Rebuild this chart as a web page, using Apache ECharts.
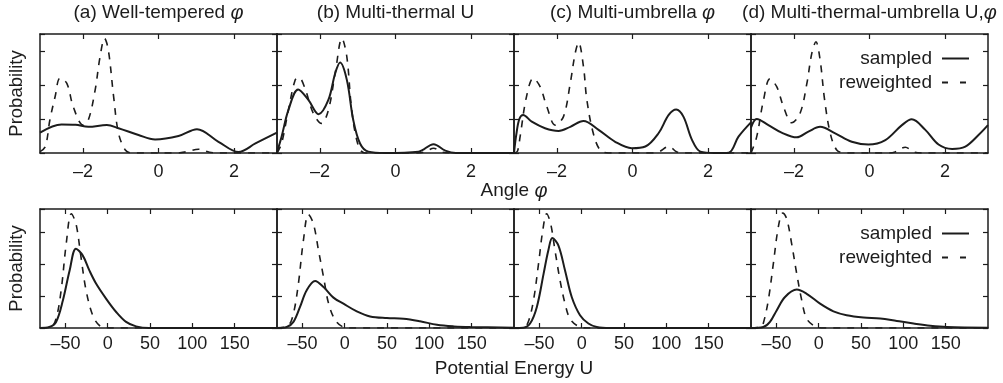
<!DOCTYPE html>
<html>
<head>
<meta charset="utf-8">
<script src="https://cdn.jsdelivr.net/npm/echarts@6/dist/echarts.min.js"></script>
<style>
  html, body { margin: 0; padding: 0; background: #fff; }
  #chart { width: 1003px; height: 383px; }
</style>
</head>
<body>
<div id="chart"></div>
<script>
// panel titles and axis ticks
const panelTitles = [
  "(a) Well-tempered φ",
  "(b) Multi-thermal U",
  "(c) Multi-umbrella φ",
  "(d) Multi-thermal-umbrella U,φ"
];
const phiTicks = [-2, 0, 2];
const energyTicks = [-50, 0, 50, 100, 150];

// top row: distribution of angle phi  [phi, probability]
const phiSampledA = [[-3.14,0.60],[-2.57,0.84],[-2.2,0.83],[-1.86,0.77],[-1.37,0.82],[-1.06,0.73],[-0.53,0.53],[-0.09,0.40],[0.53,0.50],[1.02,0.70],[1.59,0.33],[2.12,0.03],[2.57,0.28],[3.14,0.60]];
const phiReweightedA = [[-3.14,0.04],[-3.0,0.19],[-2.88,0.97],[-2.74,1.66],[-2.61,2.2],[-2.43,2.05],[-2.26,1.36],[-2.0,0.82],[-1.86,0.97],[-1.68,1.85],[-1.55,2.83],[-1.43,3.37],[-1.33,3.03],[-1.19,1.66],[-1.06,0.58],[-0.88,0.09],[-0.71,0],[0.5,0],[0.75,0.04],[1.06,0.11],[1.35,0.02],[1.6,0],[3.14,0]];

const phiSampledB = [[-3.14,0.03],[-3.02,0.48],[-2.84,1.26],[-2.58,1.87],[-2.31,1.56],[-2.04,1.14],[-1.78,1.56],[-1.60,2.34],[-1.47,2.66],[-1.29,2.15],[-1.12,0.97],[-0.94,0.28],[-0.72,0.04],[-0.27,0],[0.61,0.04],[1.01,0.26],[1.32,0.07],[1.6,0],[3.14,0]];
const phiReweightedB = [[-3.14,0],[-3.02,0.28],[-2.84,1.26],[-2.66,2.15],[-2.56,2.22],[-2.40,1.9],[-2.18,1.17],[-1.96,0.87],[-1.78,1.26],[-1.60,2.34],[-1.42,3.37],[-1.29,2.83],[-1.16,1.26],[-0.98,0.19],[-0.81,0],[0.6,0],[0.79,0.04],[1.01,0.14],[1.23,0.03],[1.5,0],[3.14,0]];

const phiSampledC = [[-3.14,0.02],[-3.08,0.55],[-3.0,1.0],[-2.9,1.12],[-2.67,0.92],[-2.32,0.73],[-1.96,0.65],[-1.65,0.77],[-1.30,0.94],[-0.90,0.68],[-0.46,0.33],[-0.02,0.14],[0.34,0.19],[0.69,0.58],[0.96,1.12],[1.16,1.28],[1.35,1.07],[1.58,0.38],[1.80,0.04],[2.19,0],[2.55,0.01],[2.81,0.48],[3.14,0.9]];
const phiReweightedC = [[-3.14,0],[-3.05,0.05],[-2.98,0.48],[-2.81,1.66],[-2.63,2.2],[-2.45,1.95],[-2.27,1.36],[-2.05,0.82],[-1.83,1.07],[-1.65,2.05],[-1.52,2.93],[-1.43,3.25],[-1.30,2.54],[-1.21,1.56],[-1.04,0.58],[-0.86,0.09],[-0.64,0],[0.5,0],[0.69,0.03],[0.96,0.19],[1.18,0.03],[1.4,0],[3.14,0]];

const phiSampledD = [[-3.14,0.75],[-2.99,1.0],[-2.68,0.82],[-2.33,0.60],[-1.93,0.46],[-1.62,0.63],[-1.31,0.77],[-0.91,0.58],[-0.47,0.33],[-0.03,0.25],[0.42,0.38],[0.86,0.82],[1.12,0.99],[1.48,0.68],[1.83,0.25],[2.19,0.12],[2.54,0.19],[2.89,0.53],[3.14,0.82]];
const phiReweightedD = [[-3.14,0],[-2.99,0.48],[-2.81,1.56],[-2.64,2.18],[-2.46,1.95],[-2.28,1.36],[-2.06,0.89],[-1.84,1.17],[-1.66,2.05],[-1.53,2.93],[-1.42,3.27],[-1.31,2.74],[-1.19,1.56],[-1.04,0.58],[-0.87,0.09],[-0.65,0],[0.5,0],[0.68,0.03],[0.95,0.17],[1.17,0.03],[1.4,0],[3.14,0]];

// bottom row: distribution of potential energy U  [U, probability]
const energySampledA = [[-80,0],[-69,0.03],[-61,0.19],[-53,0.86],[-45,1.80],[-37.5,2.48],[-29.6,2.27],[-21.7,1.80],[-13.8,1.39],[-2,0.92],[10,0.5],[21.7,0.19],[33.5,0.05],[49,0],[200,0]];
const energyReweightedA = [[-80,0],[-67,0.03],[-61,0.29],[-55,1.18],[-49,2.64],[-43,3.57],[-37.5,3.26],[-31.6,2.22],[-25.6,1.18],[-17.8,0.40],[-9.9,0.08],[-2,0.01],[10,0],[200,0]];

const energySampledB = [[-80,0],[-68.5,0.03],[-60.6,0.19],[-52.8,0.66],[-44.9,1.18],[-35,1.47],[-25,1.28],[-13.3,0.95],[-1.5,0.76],[14.3,0.52],[30,0.36],[49.8,0.31],[69.5,0.29],[89,0.21],[109,0.10],[129,0.05],[148.5,0.03],[200,0.01]];
const energyReweightedB = [[-80,0],[-66.6,0.08],[-60.6,0.45],[-54.7,1.39],[-48.8,2.74],[-42.9,3.55],[-37,3.26],[-31,2.43],[-25,1.59],[-19,0.76],[-11,0.24],[-1.5,0.03],[10,0],[200,0]];

const energySampledC = [[-80,0],[-69,0.01],[-61,0.14],[-53,0.66],[-45,1.70],[-39.4,2.43],[-34.7,2.81],[-27.6,2.58],[-19.7,1.80],[-11.8,0.97],[-2,0.40],[7.9,0.14],[17.8,0.03],[33.5,0],[200,0]];
const energyReweightedC = [[-80,0],[-68,0.02],[-63,0.2],[-57,0.86],[-51,2.01],[-46,3.05],[-41.4,3.57],[-36.7,3.26],[-31.6,2.43],[-25.6,1.49],[-19.7,0.76],[-13.8,0.29],[-4,0.05],[6,0],[200,0]];

const energySampledD = [[-80,0],[-65.5,0.03],[-57.6,0.19],[-49.7,0.55],[-39.8,0.97],[-26,1.20],[-14.2,1.07],[1.6,0.76],[17.4,0.52],[33,0.40],[52.9,0.33],[72.6,0.30],[92.3,0.22],[112,0.14],[131.8,0.07],[151.5,0.03],[200,0.01]];
const energyReweightedD = [[-80,0],[-68,0.03],[-65.5,0.14],[-59.6,0.86],[-53.6,2.01],[-47.7,3.16],[-42.6,3.59],[-37.9,3.42],[-32,2.64],[-26,1.70],[-20,0.86],[-14.2,0.29],[-4.3,0.05],[5.5,0],[200,0]];

const phiSampled = [phiSampledA, phiSampledB, phiSampledC, phiSampledD];
const phiReweighted = [phiReweightedA, phiReweightedB, phiReweightedC, phiReweightedD];
const energySampled = [energySampledA, energySampledB, energySampledC, energySampledD];
const energyReweighted = [energyReweightedA, energyReweightedB, energyReweightedC, energyReweightedD];

const FONT = "'Liberation Sans', Arial, Helvetica, sans-serif";
const INK = "#1c1c1c";
const chart = echarts.init(document.getElementById("chart"));

const rows = [
  { top: 34, height: 119, min: -Math.PI, max: Math.PI, ticks: phiTicks, yMax: 3.5, margin: 10,
    sampled: phiSampled, reweighted: phiReweighted },
  { top: 209, height: 119, min: -80, max: 200, ticks: energyTicks, yMax: 3.72, margin: 7,
    sampled: energySampled, reweighted: energyReweighted }
];

const grids = [], xAxes = [], yAxes = [], series = [];
const lineAxis = { show: true, onZero: false, lineStyle: { color: INK, width: 1.5 } };
const fmt = (v) => String(v).replace("-", "\u2013");

rows.forEach((row, r) => {
  for (let p = 0; p < 4; p++) {
    const g = grids.length;
    grids.push({ left: 40 + 237 * p, top: row.top, width: 237, height: row.height });
    const tick = { inside: true, length: 5, customValues: row.ticks, lineStyle: { color: INK, width: 1.2 } };
    xAxes.push({
      type: "value", gridIndex: g, position: "bottom", min: row.min, max: row.max,
      axisLine: lineAxis, axisTick: tick, splitLine: { show: false },
      axisLabel: { customValues: row.ticks, formatter: fmt, margin: row.margin,
        fontSize: 18, fontFamily: FONT, color: INK }
    });
    xAxes.push({
      type: "value", gridIndex: g, position: "top", min: row.min, max: row.max,
      axisLine: lineAxis, axisTick: tick, splitLine: { show: false }, axisLabel: { show: false }
    });
    const ytick = { inside: true, length: 5, lineStyle: { color: INK, width: 1.2 } };
    yAxes.push({
      type: "value", gridIndex: g, position: "left", min: 0, max: row.yMax, interval: 1,
      axisLine: lineAxis, axisTick: ytick, splitLine: { show: false }, axisLabel: { show: false }
    });
    yAxes.push({
      type: "value", gridIndex: g, position: "right", min: 0, max: row.yMax, interval: 1,
      axisLine: lineAxis, axisTick: ytick, splitLine: { show: false }, axisLabel: { show: false }
    });
    series.push({
      name: "reweighted", type: "line", xAxisIndex: 2 * g, yAxisIndex: 2 * g,
      data: row.reweighted[p], symbol: "none", smooth: 0.35, color: INK,
      lineStyle: { color: INK, width: 1.6, type: [7, 7] }
    });
    series.push({
      name: "sampled", type: "line", xAxisIndex: 2 * g, yAxisIndex: 2 * g,
      data: row.sampled[p], symbol: "none", smooth: 0.35, color: INK,
      lineStyle: { color: INK, width: 2 }
    });
  }
});

// legend icons: only the line, the symbol is made invisible
const legendBase = {
  orient: "vertical", align: "right", right: 33, padding: 0,
  itemWidth: 27, itemHeight: 14, itemGap: 5,
  itemStyle: { opacity: 0, borderWidth: 0 },
  data: ["sampled", { name: "reweighted", lineStyle: { type: [6, 12] } }],
  textStyle: { fontSize: 19, fontFamily: FONT, color: INK, padding: [0, 5, 0, 0] }
};

const textEl = (text, x, y, size) => ({
  type: "text", x: x, y: y, silent: true,
  style: {
    text: text.replace("φ", "{it|φ}"), fill: INK, fontSize: size || 19, fontFamily: FONT,
    align: "center", verticalAlign: "middle",
    rich: { it: { fontStyle: "italic", fontSize: (size || 19) + 1, fontFamily: FONT, fill: INK } }
  }
});

const graphics = panelTitles.map((t, p) => textEl(t, 158.5 + 237 * p, 13));
graphics.push(textEl("Angle φ", 514, 191));
graphics.push(textEl("Potential Energy U", 514, 369));
graphics.push(Object.assign(textEl("Probability", 17, 93.5, 18.5), { rotation: Math.PI / 2 }));
graphics.push(Object.assign(textEl("Probability", 17, 268.5, 18.5), { rotation: Math.PI / 2 }));

chart.setOption({
  animation: false,
  textStyle: { fontFamily: FONT },
  grid: grids,
  xAxis: xAxes,
  yAxis: yAxes,
  legend: [
    Object.assign({}, legendBase, { top: 49 }),
    Object.assign({}, legendBase, { top: 224 })
  ],
  graphic: graphics,
  series: series
});
</script>
</body>
</html>
